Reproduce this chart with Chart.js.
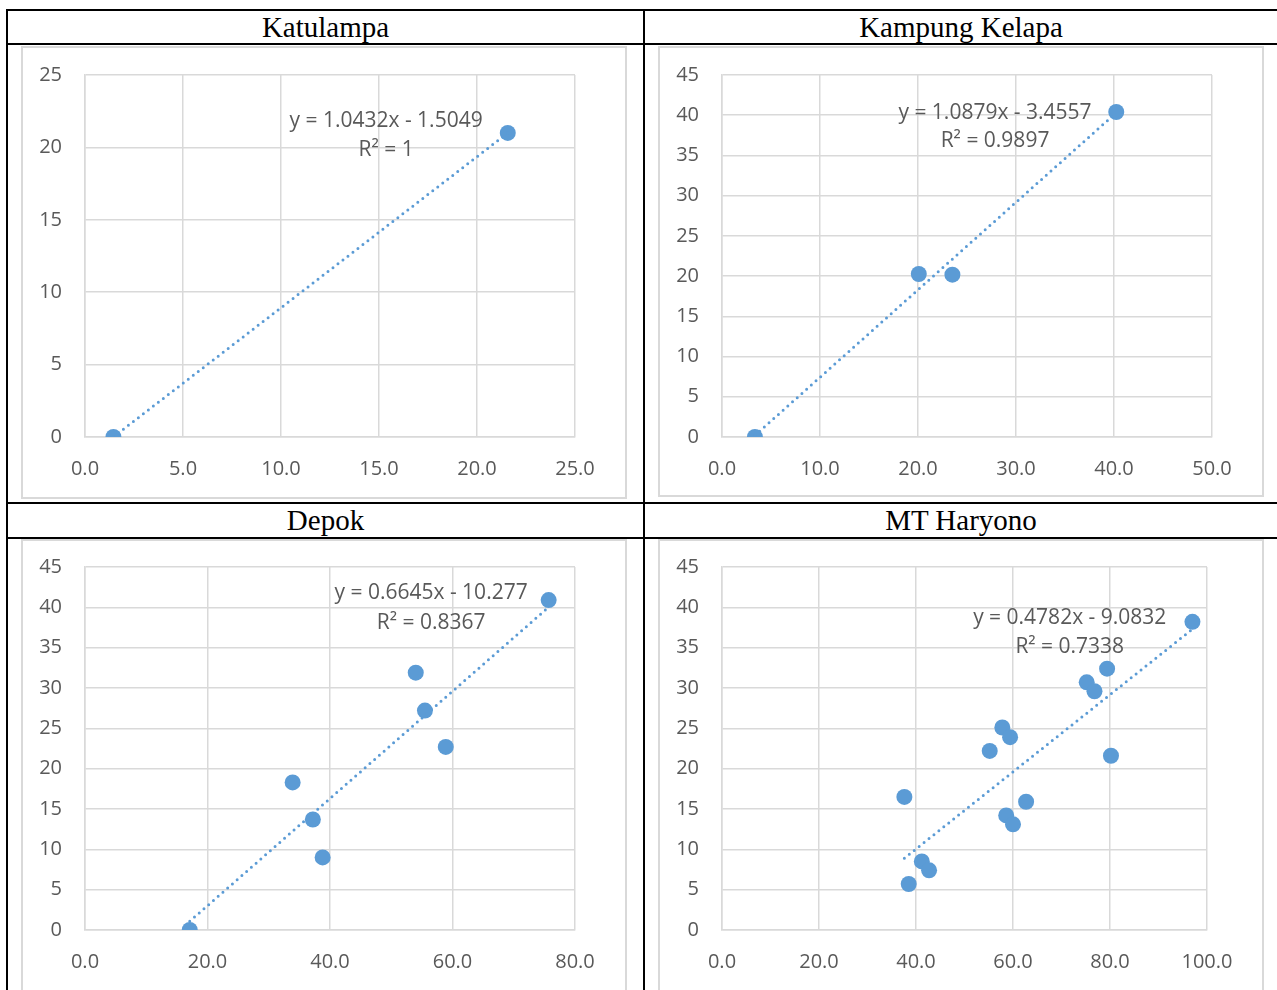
<!DOCTYPE html>
<html>
<head>
<meta charset="utf-8">
<script src="https://cdn.jsdelivr.net/npm/chart.js@4/dist/chart.umd.min.js"></script>
<style>
  html, body { margin: 0; padding: 0; background: #fff; }
  body { position: relative; width: 1277px; height: 990px; overflow: hidden; }
  .ln { position: absolute; background: #000; }
  .ttl { position: absolute; font-family: "Liberation Serif", "Times New Roman", serif; font-size: 29px; color: #000; text-align: center; height: 32px; line-height: 32px; }
  .frame { position: absolute; border: 2px solid #d9d9d9; box-sizing: border-box; pointer-events: none; }
  canvas { position: absolute; }
</style>
</head>
<body>
<script>
// ---------- data ----------
const titles = ["Katulampa", "Kampung Kelapa", "Depok", "MT Haryono"];

const katX = [1.45, 21.57];
const katY = [0, 21.0];

const kkX = [3.36, 20.08, 23.51, 40.23];
const kkY = [0, 20.26, 20.18, 40.4];

const depX = [17.1, 33.9, 37.2, 38.8, 54.0, 55.5, 58.9, 75.7];
const depY = [0, 18.3, 13.7, 9.0, 31.9, 27.2, 22.7, 40.9];

const mthX = [37.6, 38.5, 41.2, 42.7, 55.2, 57.8, 59.4, 58.6, 60.0, 62.7, 75.2, 76.8, 79.4, 80.2, 97.0];
const mthY = [16.5, 5.7, 8.5, 7.4, 22.2, 25.1, 23.9, 14.2, 13.1, 15.9, 30.7, 29.6, 32.4, 21.6, 38.2];

// trendline coefficients [slope, intercept] as printed on the chart
const katTrend = [1.0432, -1.5049];
const kkTrend = [1.0879, -3.4557];
const depTrend = [0.6645, -10.277];
const mthTrend = [0.4782, -9.0832];

const katEq = ["y = 1.0432x - 1.5049", "R\u00B2 = 1"];
const kkEq = ["y = 1.0879x - 3.4557", "R\u00B2 = 0.9897"];
const depEq = ["y = 0.6645x - 10.277", "R\u00B2 = 0.8367"];
const mthEq = ["y = 0.4782x - 9.0832", "R\u00B2 = 0.7338"];

// axis ranges [min, max, step]
const katXAxis = [0, 25, 5], katYAxis = [0, 25, 5];
const kkXAxis = [0, 50, 10], kkYAxis = [0, 45, 5];
const depXAxis = [0, 80, 20], depYAxis = [0, 45, 5];
const mthXAxis = [0, 100, 20], mthYAxis = [0, 45, 5];

// ---------- layout ----------
const BLUE = "#5b9bd5";
const GRID = "#d9d9d9";
const TXT = "#595959";
const FONT = "'Open Sans', 'Noto Sans', sans-serif";

function addDiv(cls, l, t, w, h, text) {
  const d = document.createElement("div");
  d.className = cls;
  d.style.left = l + "px"; d.style.top = t + "px";
  d.style.width = w + "px"; d.style.height = h + "px";
  if (text) d.textContent = text;
  document.body.appendChild(d);
  return d;
}

// table lines
addDiv("ln", 6, 9, 1271, 2);
addDiv("ln", 6, 43, 1271, 2);
addDiv("ln", 6, 502, 1271, 2);
addDiv("ln", 6, 537, 1271, 2);
addDiv("ln", 6, 9, 2, 981);
addDiv("ln", 643, 9, 2, 981);

// titles
addDiv("ttl", 8, 11, 635, 32, titles[0]);
addDiv("ttl", 645, 11, 632, 32, titles[1]);
addDiv("ttl", 8, 504, 635, 32, titles[2]);
addDiv("ttl", 645, 504, 632, 32, titles[3]);

const eqPlugin = {
  id: "eqLabel",
  afterDatasetsDraw(chart) {
    const o = chart.options.plugins.eqLabel;
    if (!o) return;
    const ctx = chart.ctx;
    ctx.save();
    ctx.font = "21px " + FONT;
    ctx.fillStyle = TXT;
    ctx.textAlign = "center";
    ctx.textBaseline = "middle";
    const x = chart.scales.x.getPixelForValue(o.pos[0]);
    ctx.fillText(o.lines[0], x, chart.scales.y.getPixelForValue(o.pos[1]) + 2);
    ctx.fillText(o.lines[1], x, chart.scales.y.getPixelForValue(o.pos[2]) + 2);
    ctx.restore();
  }
};

function makeChart(cfg) {
  const c = document.createElement("canvas");
  c.style.left = cfg.left + "px"; c.style.top = cfg.top + "px";
  c.width = cfg.w; c.height = cfg.h;
  c.style.width = cfg.w + "px"; c.style.height = cfg.h + "px";
  document.body.appendChild(c);
  addDiv("frame", cfg.left, cfg.top, cfg.w, cfg.fh);

  const pts = cfg.xs.map((x, i) => ({ x: x, y: cfg.ys[i] }));
  const xmin = Math.min(...cfg.xs), xmax = Math.max(...cfg.xs);
  const trend = [
    { x: xmin, y: cfg.trend[0] * xmin + cfg.trend[1] },
    { x: xmax, y: cfg.trend[0] * xmax + cfg.trend[1] }
  ];

  new Chart(c, {
    type: "scatter",
    data: {
      datasets: [
        {
          data: trend, showLine: true, pointRadius: 0, borderColor: BLUE,
          borderWidth: 3, borderDash: [0, 6.3], borderCapStyle: "round", fill: false
        },
        {
          data: pts, pointRadius: 8, pointHoverRadius: 8,
          backgroundColor: BLUE, borderColor: BLUE, borderWidth: 0
        }
      ]
    },
    options: {
      responsive: false, animation: false, devicePixelRatio: 1,
      layout: { padding: { left: 0, right: cfg.padR, top: cfg.padT, bottom: 0 } },
      plugins: {
        legend: { display: false }, tooltip: { enabled: false }, title: { display: false },
        eqLabel: { lines: cfg.eq, pos: cfg.eqPos }
      },
      scales: {
        x: {
          type: "linear", min: cfg.xa[0], max: cfg.xa[1],
          afterFit: (s) => { s.height = cfg.xh; s.paddingLeft = 0; s.paddingRight = 0; },
          grid: { color: GRID, lineWidth: 1.5, drawTicks: false },
          border: { display: true, color: GRID, width: 1.5 },
          ticks: {
            stepSize: cfg.xa[2], padding: 20, color: TXT,
            font: { family: FONT, size: 20 },
            callback: (v) => Number(v).toFixed(1)
          }
        },
        y: {
          type: "linear", min: cfg.ya[0], max: cfg.ya[1],
          afterFit: (s) => { s.width = cfg.yw; s.paddingTop = 0; s.paddingBottom = 0; },
          grid: { color: GRID, lineWidth: 1.5, drawTicks: false },
          border: { display: true, color: GRID, width: 1.5 },
          ticks: {
            stepSize: cfg.ya[2], padding: 23, color: TXT,
            font: { family: FONT, size: 20 },
            callback: (v) => String(v)
          }
        }
      }
    },
    plugins: [eqPlugin]
  });
}

makeChart({ left: 21, top: 46, w: 606, h: 453, fh: 453, yw: 64, padR: 52, padT: 29, xh: 62,
  xs: katX, ys: katY, trend: katTrend, eq: katEq, eqPos: [15.36, 21.96, 19.96], xa: katXAxis, ya: katYAxis });
makeChart({ left: 658, top: 46, w: 606, h: 451, fh: 451, yw: 64, padR: 52, padT: 29, xh: 60,
  xs: kkX, ys: kkY, trend: kkTrend, eq: kkEq, eqPos: [27.86, 40.53, 37.05], xa: kkXAxis, ya: kkYAxis });
makeChart({ left: 21, top: 539, w: 606, h: 451, fh: 470, yw: 64, padR: 52, padT: 28, xh: 60,
  xs: depX, ys: depY, trend: depTrend, eq: depEq, eqPos: [56.5, 42.0, 38.3], xa: depXAxis, ya: depYAxis });
makeChart({ left: 658, top: 539, w: 606, h: 451, fh: 470, yw: 64, padR: 57, padT: 28, xh: 60,
  xs: mthX, ys: mthY, trend: mthTrend, eq: mthEq, eqPos: [71.7, 38.9, 35.3], xa: mthXAxis, ya: mthYAxis });
</script>
</body>
</html>
